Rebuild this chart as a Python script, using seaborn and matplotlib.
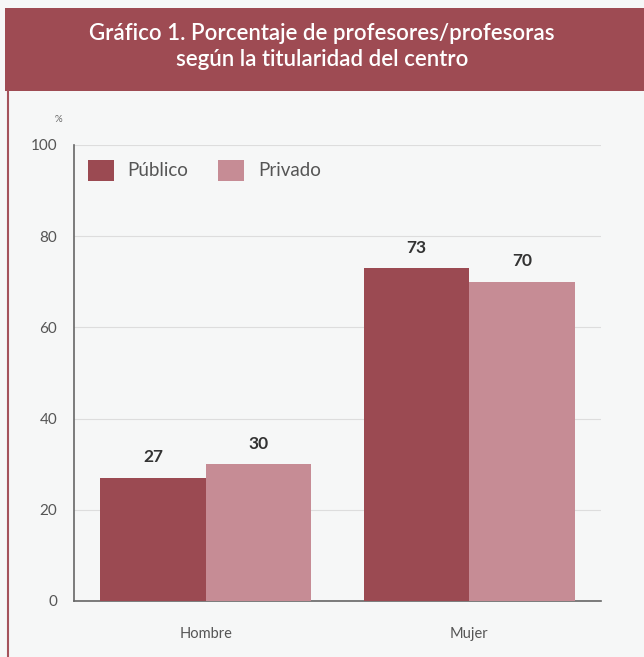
import matplotlib.pyplot as plt
import seaborn as sns
import pandas as pd
from matplotlib.patches import Rectangle
from matplotlib.lines import Line2D

sexo = ["Hombre", "Hombre", "Mujer", "Mujer"]
titularidad = ["Público", "Privado", "Público", "Privado"]
porcentaje = [27, 30, 73, 70]
ticks_y = [0, 20, 40, 60, 80, 100]

COLOR_PUBLICO = "#9b4a52"
COLOR_PRIVADO = "#c68c95"
FONDO = "#f6f7f7"

df = pd.DataFrame({"sexo": sexo, "titularidad": titularidad, "porcentaje": porcentaje})

sns.set_style("white")
plt.rcParams["font.family"] = ["Lato", "DejaVu Sans"]

fig = plt.figure(figsize=(6.44, 6.57), dpi=100, facecolor=FONDO)

# Cabecera
fig.patches.append(Rectangle((5 / 644, 1 - 91 / 657), 1, 83 / 657, transform=fig.transFigure,
                             facecolor="#9e4b53", edgecolor="none", zorder=0))
fig.lines.append(Line2D([7.5 / 644, 7.5 / 644], [0, 1 - 91 / 657], transform=fig.transFigure,
                        color="#a4535b", linewidth=1.5))
fig.text(0.5, 1 - 33 / 657, "Gráfico 1. Porcentaje de profesores/profesoras",
         ha="center", va="center", color="white", fontsize=16, fontweight="semibold")
fig.text(0.5, 1 - 60 / 657, "según la titularidad del centro",
         ha="center", va="center", color="white", fontsize=16, fontweight="semibold")

ax = fig.add_axes([74 / 644, 56 / 657, 527 / 644, 456 / 657])
ax.set_facecolor(FONDO)

sns.barplot(data=df, x="sexo", y="porcentaje", hue="titularidad",
            palette={"Público": COLOR_PUBLICO, "Privado": COLOR_PRIVADO},
            width=0.8, saturation=1, linewidth=0, ax=ax, zorder=3)

for cont in ax.containers:
    ax.bar_label(cont, padding=9, fontsize=12.5, fontweight="bold", color="#333333")

ax.set_ylim(0, 100)
ax.set_xlim(-0.5, 1.5)
ax.set_yticks(ticks_y)
ax.set_yticklabels([str(t) for t in ticks_y], fontsize=11, color="#555555")
ax.tick_params(axis="x", labelsize=10.5, colors="#555555", pad=19, length=0)
ax.tick_params(axis="y", length=0, pad=12)
ax.yaxis.grid(True, color="#dddddd", linewidth=0.8, zorder=0)
ax.set_axisbelow(True)
ax.set_xlabel("")
ax.set_ylabel("")
ax.text(-0.03, 1.05, "%", transform=ax.transAxes, fontsize=7, color="#666666", ha="center")

for s in ["top", "right"]:
    ax.spines[s].set_visible(False)
for s in ["left", "bottom"]:
    ax.spines[s].set_color("#666666")
    ax.spines[s].set_linewidth(1.2)

leg = ax.legend(loc="upper left", bbox_to_anchor=(-0.005, 1.005), ncol=2, frameon=False,
                fontsize=13.5, handlelength=1.35, handleheight=1.35, handletextpad=0.75,
                columnspacing=1.6)
for t in leg.get_texts():
    t.set_color("#555555")

fig.savefig("out.png", dpi=100, facecolor=FONDO)
